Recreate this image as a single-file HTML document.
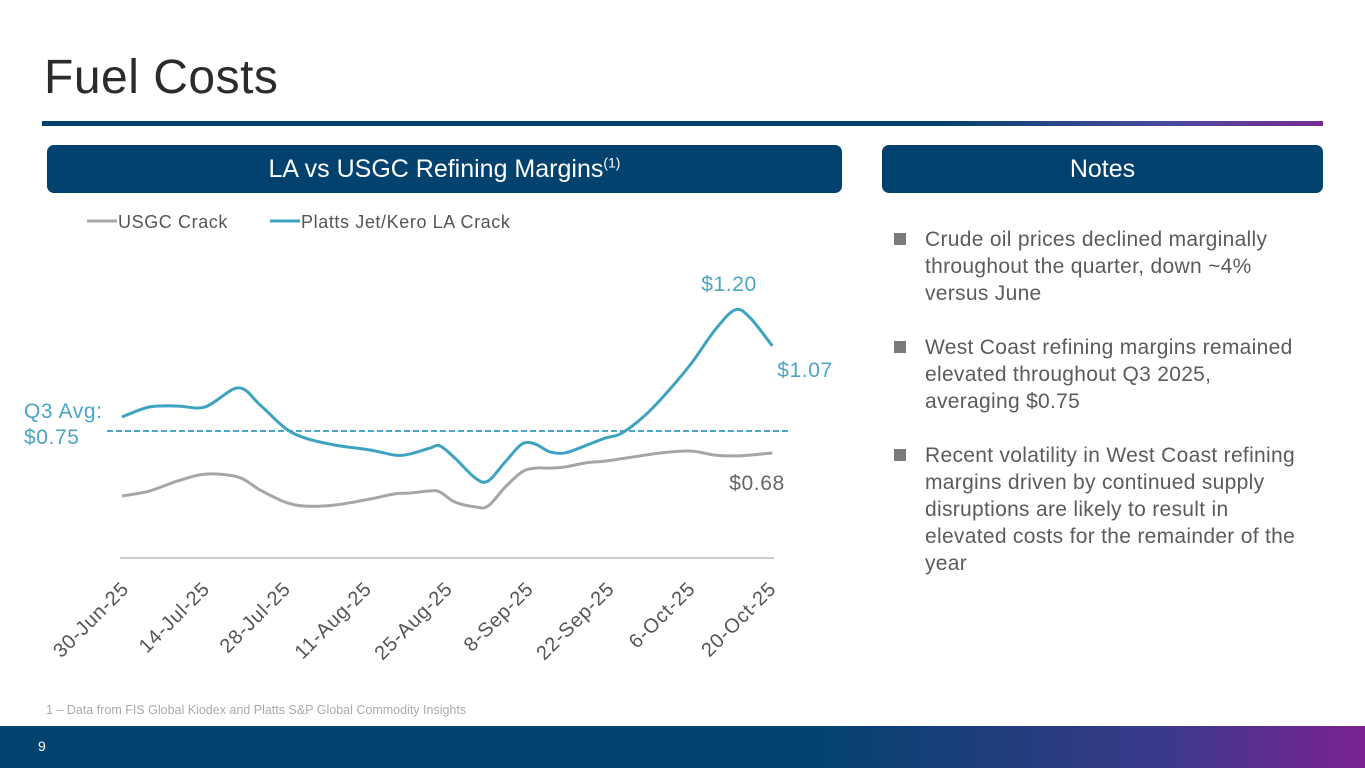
<!DOCTYPE html>
<html><head><meta charset="utf-8"><style>
body{margin:0;width:1365px;height:768px;position:relative;background:#fff;font-family:"Liberation Sans",sans-serif;overflow:hidden}
.abs{position:absolute}
.hdr{position:absolute;top:145px;height:48px;background:#03426e;border-radius:7px;color:#fff;font-size:25px;text-align:center;line-height:48px}
.note{position:absolute;left:925px;width:374px;font-size:21px;letter-spacing:0.3px;line-height:27px;color:#5b5b5b}
.note:before{content:"";position:absolute;left:-31px;top:7px;width:12px;height:12px;background:#7a7a7a}
</style></head><body>
<div class="abs" style="left:44px;top:50px;font-size:48px;letter-spacing:0.5px;color:#2b2b2b">Fuel Costs</div>
<div class="abs" style="left:42px;top:121px;width:1281px;height:5px;background:linear-gradient(90deg,#03426e 0%,#03426e 70%,#4a4aa0 88%,#7a2a90 100%)"></div>
<div class="hdr" style="left:47px;width:795px">LA vs USGC Refining Margins<sup style="font-size:14px;line-height:0">(1)</sup></div>
<div class="hdr" style="left:882px;width:441px">Notes</div>
<div class="note" style="top:226px">Crude oil prices declined marginally throughout the quarter, down ~4% versus June</div>
<div class="note" style="top:334px">West Coast refining margins remained elevated throughout Q3 2025, averaging $0.75</div>
<div class="note" style="top:442px">Recent volatility in West Coast refining margins driven by continued supply disruptions are likely to result in elevated costs for the remainder of the year</div>
<div class="abs" style="left:46px;top:703px;font-size:12.5px;color:#aaa">1 – Data from FIS Global Kiodex and Platts S&amp;P Global Commodity Insights</div>
<div class="abs" style="left:0;top:726px;width:1365px;height:42px;background:linear-gradient(90deg,#03426e 0%,#03426e 60%,#3a3a8a 85%,#7a2290 100%)"></div>
<div class="abs" style="left:38px;top:738px;font-size:14px;color:#fff">9</div>
<svg id="chart" class="abs" style="left:0;top:200px" width="860" height="500"></svg>
<script>
const days=[0,4.8,9.7,14.4,20.1,23.9,28.2,31.7,36.9,42.9,47.2,49.8,53.3,55,57.6,61.1,63.3,66.3,69.2,71.5,74,76.6,80.1,83.6,86.2,89.6,93.1,98.3,102.6,106.1,108.7,112.5];
const laCrack=[0.802,0.839,0.842,0.839,0.909,0.846,0.761,0.724,0.698,0.680,0.661,0.665,0.687,0.695,0.650,0.577,0.565,0.636,0.702,0.702,0.673,0.669,0.695,0.724,0.739,0.791,0.864,0.994,1.123,1.197,1.167,1.064];
const usgcCrack=[0.510,0.529,0.566,0.591,0.580,0.532,0.488,0.473,0.477,0.499,0.518,0.521,0.529,0.525,0.488,0.470,0.473,0.543,0.599,0.613,0.613,0.617,0.632,0.639,0.647,0.658,0.669,0.676,0.661,0.658,0.661,0.669];
const tickDays=[0,14,28,42,56,70,84,98,112];
const tickLabels=["30-Jun-25","14-Jul-25","28-Jul-25","11-Aug-25","25-Aug-25","8-Sep-25","22-Sep-25","6-Oct-25","20-Oct-25"];
const q3Avg=0.75;
const OY=200;
const X=d=>122+d*5.78;
const Y=v=>431-OY-(v-0.75)*271;
const svg=document.getElementById('chart');
const NS='http://www.w3.org/2000/svg';
function mk(t,a){const e=document.createElementNS(NS,t);for(const k in a)e.setAttribute(k,a[k]);svg.appendChild(e);return e;}
function path(vals){const p=days.map((d,i)=>[X(d),Y(vals[i])]);let s=`M${p[0][0]},${p[0][1]}`;
for(let i=0;i<p.length-1;i++){const p0=p[Math.max(0,i-1)],p1=p[i],p2=p[i+1],p3=p[Math.min(p.length-1,i+2)];
s+=` C${p1[0]+(p2[0]-p0[0])/6},${p1[1]+(p2[1]-p0[1])/6} ${p2[0]-(p3[0]-p1[0])/6},${p2[1]-(p3[1]-p1[1])/6} ${p2[0]},${p2[1]}`;}return s;}
let e;
e=mk('line',{x1:120,x2:774,y1:558-OY,y2:558-OY,stroke:'#bbb','stroke-width':1.5});


e=mk('line',{x1:107,x2:788,y1:Y(q3Avg),y2:Y(q3Avg),stroke:'#4aa6c2','stroke-width':2,'stroke-dasharray':'6,3'});


e=mk('path',{d:path(usgcCrack),fill:'none',stroke:'#a6a6a6','stroke-width':3});


e=mk('path',{d:path(laCrack),fill:'none',stroke:'#3ea3c0','stroke-width':3});


tickDays.forEach((d,i)=>{const x=X(d)+8,y=590-OY;
const t=mk('text',{x:x,y:y,transform:`rotate(-45 ${x} ${y})`,'text-anchor':'end','font-size':20,'letter-spacing':'0.8',fill:'#555','font-family':'Liberation Sans'});
t.textContent=tickLabels[i];

});
function txt(x,y,s,c,n,a){const t=mk('text',{x:x,y:y-OY,'font-size':21,'letter-spacing':'0.6',fill:c,'font-family':'Liberation Sans','text-anchor':a||'start'});t.textContent=s;

return t;}
txt(24,418,'Q3 Avg:','#4aa6c2','q3-avg-label');
txt(24,444,'$'+q3Avg.toFixed(2),'#4aa6c2','q3-avg-value');
txt(729,291,'$1.20','#4aa6c2','peak-label','middle');
txt(805,377,'$1.07','#4aa6c2','last-la-label','middle');
txt(757,490,'$0.68','#666','last-usgc-label','middle');
e=mk('line',{x1:87,x2:117,y1:21,y2:21,stroke:'#a6a6a6','stroke-width':3});


txt(118,228,'USGC Crack','#555','legend-usgc').setAttribute('font-size',18);
e=mk('line',{x1:270,x2:300,y1:21,y2:21,stroke:'#3ea3c0','stroke-width':3});


txt(301,228,'Platts Jet/Kero LA Crack','#555','legend-la').setAttribute('font-size',18);
</script>
</body></html>
